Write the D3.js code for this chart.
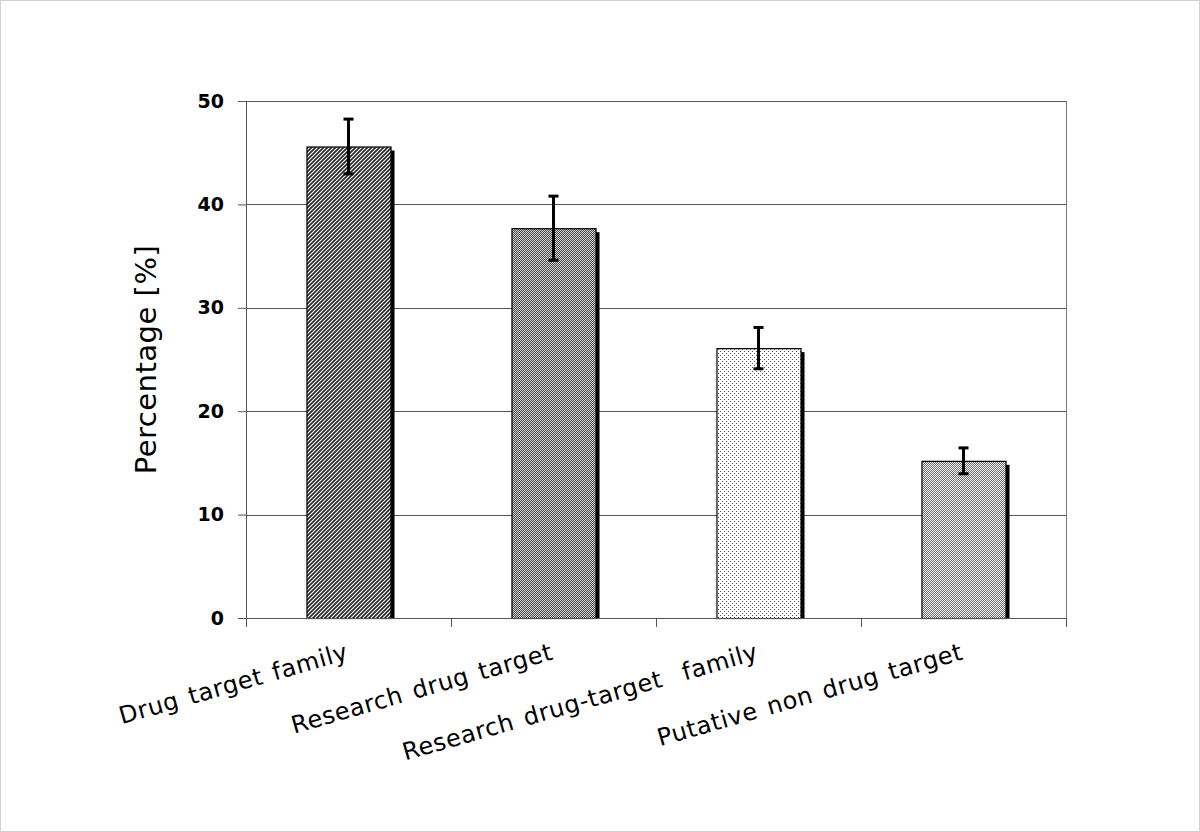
<!DOCTYPE html>
<html>
<head>
<meta charset="utf-8">
<script src="https://cdn.jsdelivr.net/npm/d3@7"></script>
<style>
  body { margin: 0; background: #fff; }
  svg { display: block; font-family: "DejaVu Sans", Verdana, sans-serif; }
</style>
</head>
<body>
<div id="chart"></div>
<script>
// chart data
const categories = ['Drug target family', 'Research drug target', 'Research drug-target  family', 'Putative non drug target'];
const values = [45.6, 37.7, 26.1, 15.2];
const errors = [2.65, 3.1, 2.0, 1.25];
const yTicks = [0, 10, 20, 30, 40, 50];
const patternIds = ['diag', 'check', 'dots', 'check2'];

const width = 1200, height = 832;
const margin = {t: 101, r: 134, b: 214, l: 246};
const innerW = width - margin.l - margin.r;
const innerH = height - margin.t - margin.b;

const svg = d3.select('#chart')
    .append('svg')
    .attr('width', width)
    .attr('height', height);

// outer frame
svg.append('rect')
    .attr('x', 0.5).attr('y', 0.5)
    .attr('width', width - 1).attr('height', height - 1)
    .attr('fill', '#fff')
    .attr('stroke', '#d0d0d0');

// fill patterns
const defs = svg.append('defs');

const diag = defs.append('pattern').attr('id', 'diag')
    .attr('patternUnits', 'userSpaceOnUse').attr('width', 4).attr('height', 4);
diag.append('rect').attr('width', 4).attr('height', 4).attr('fill', '#fff');
diag.append('path').attr('d', 'M-1,1 L1,-1 M0,4 L4,0 M3,5 L5,3')
    .attr('stroke', '#222').attr('stroke-width', 1.6);

const check = defs.append('pattern').attr('id', 'check')
    .attr('patternUnits', 'userSpaceOnUse').attr('width', 2).attr('height', 2);
check.append('rect').attr('width', 2).attr('height', 2).attr('fill', '#d8d8d8');
check.append('rect').attr('width', 1).attr('height', 1).attr('fill', '#444');
check.append('rect').attr('x', 1).attr('y', 1).attr('width', 1).attr('height', 1).attr('fill', '#444');

const dots = defs.append('pattern').attr('id', 'dots')
    .attr('patternUnits', 'userSpaceOnUse').attr('width', 4).attr('height', 4);
dots.append('rect').attr('width', 4).attr('height', 4).attr('fill', '#fff');
dots.append('rect').attr('width', 1).attr('height', 1).attr('fill', '#555');
dots.append('rect').attr('x', 2).attr('y', 2).attr('width', 1).attr('height', 1).attr('fill', '#555');

const check2 = defs.append('pattern').attr('id', 'check2')
    .attr('patternUnits', 'userSpaceOnUse').attr('width', 2).attr('height', 2);
check2.append('rect').attr('width', 2).attr('height', 2).attr('fill', '#fff');
check2.append('rect').attr('width', 1).attr('height', 1).attr('fill', '#666');
check2.append('rect').attr('x', 1).attr('y', 1).attr('width', 1).attr('height', 1).attr('fill', '#666');

const x = d3.scaleBand()
    .domain(categories)
    .range([0, innerW])
    .paddingInner(0.59)
    .paddingOuter(0.295);

const y = d3.scaleLinear()
    .domain([0, 50])
    .range([innerH, 0]);

const g = svg.append('g')
    .attr('transform', `translate(${margin.l},${margin.t})`);

// gridlines
g.selectAll('.grid')
    .data(yTicks.slice(1))
    .enter()
    .append('line')
    .attr('x1', 0).attr('x2', innerW)
    .attr('y1', d => Math.round(y(d)) + 0.5)
    .attr('y2', d => Math.round(y(d)) + 0.5)
    .attr('stroke', '#555')
    .attr('stroke-width', 1);

// right border
g.append('line')
    .attr('x1', innerW + 0.5).attr('x2', innerW + 0.5)
    .attr('y1', 0).attr('y2', innerH)
    .attr('stroke', '#777');

// bar shadows
g.selectAll('.shadow')
    .data(values)
    .enter()
    .append('rect')
    .attr('x', (d, i) => x(categories[i]) + 4)
    .attr('y', d => y(d) + 4)
    .attr('width', x.bandwidth())
    .attr('height', d => innerH - y(d) - 4)
    .attr('fill', '#000');

// bars
g.selectAll('.bar')
    .data(values)
    .enter()
    .append('rect')
    .attr('x', (d, i) => x(categories[i]) + 0.5)
    .attr('y', d => y(d) + 0.5)
    .attr('width', x.bandwidth())
    .attr('height', d => innerH - y(d))
    .attr('fill', (d, i) => `url(#${patternIds[i]})`)
    .attr('stroke', '#000')
    .attr('stroke-width', 1.2);

// error bars
const eb = g.selectAll('.err')
    .data(values)
    .enter()
    .append('g')
    .attr('transform', (d, i) => `translate(${x(categories[i]) + x.bandwidth() / 2},0)`);

eb.append('line')
    .attr('y1', (d, i) => y(d + errors[i]))
    .attr('y2', (d, i) => y(d - errors[i]))
    .attr('stroke', '#000').attr('stroke-width', 3);
eb.append('line')
    .attr('x1', -5).attr('x2', 5)
    .attr('y1', (d, i) => y(d + errors[i]))
    .attr('y2', (d, i) => y(d + errors[i]))
    .attr('stroke', '#000').attr('stroke-width', 3);
eb.append('line')
    .attr('x1', -5).attr('x2', 5)
    .attr('y1', (d, i) => y(d - errors[i]))
    .attr('y2', (d, i) => y(d - errors[i]))
    .attr('stroke', '#000').attr('stroke-width', 3);

// y axis
const yAxis = g.append('g')
    .call(d3.axisLeft(y).tickValues(yTicks).tickSize(8).tickPadding(14).tickFormat(d3.format('d')));
yAxis.select('.domain').attr('stroke', '#555');
yAxis.selectAll('.tick line').attr('stroke', '#555');
yAxis.selectAll('text')
    .attr('font-size', 19)
    .attr('font-weight', 'bold')
    .attr('fill', '#000')
    .attr('font-family', '"DejaVu Sans", Verdana, sans-serif');

// x axis: ticks at category boundaries
const xb = d3.scaleLinear().domain([0, categories.length]).range([0, innerW]);
const xAxis = g.append('g')
    .attr('transform', `translate(0,${innerH})`)
    .call(d3.axisBottom(xb).ticks(categories.length).tickSize(9).tickFormat(''));
xAxis.select('.domain').attr('stroke', '#555');
xAxis.selectAll('.tick line').attr('stroke', '#555');

// category labels
g.selectAll('.xlabel')
    .data(categories)
    .enter()
    .append('text')
    .attr('transform', d => `translate(${x(d) + x.bandwidth() / 2 + 1},${innerH + 41}) rotate(-16)`)
    .attr('text-anchor', 'end')
    .attr('font-size', 24)
    .attr('letter-spacing', 0.6)
    .attr('word-spacing', 2.5)
    .attr('fill', '#000')
    .style('white-space', 'pre')
    .text(d => d);

// y title
svg.append('text')
    .attr('transform', `translate(156,${margin.t + innerH / 2}) rotate(-90)`)
    .attr('text-anchor', 'middle')
    .attr('font-size', 29)
    .attr('letter-spacing', 0.5)
    .attr('fill', '#000')
    .text('Percentage [%]');
</script>
</body>
</html>
